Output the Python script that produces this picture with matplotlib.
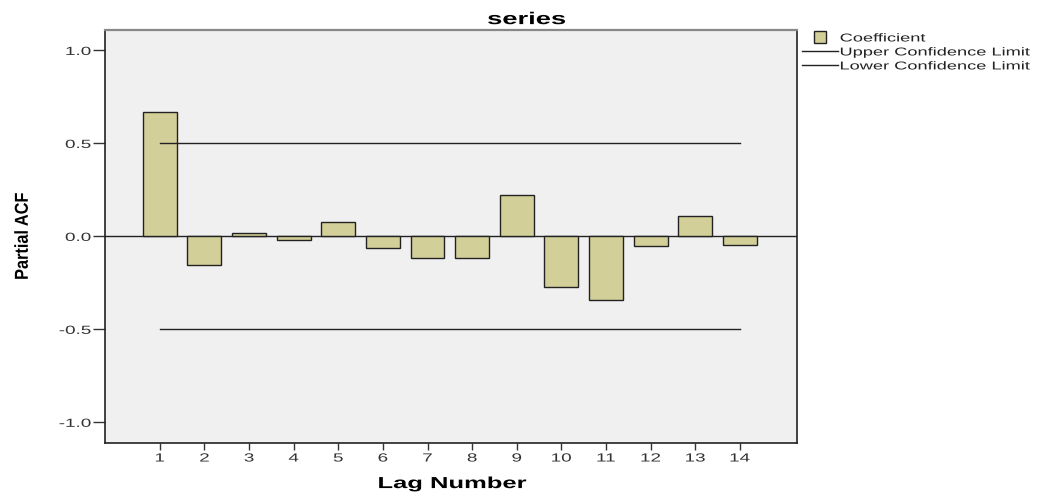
import matplotlib.pyplot as plt
from matplotlib.lines import Line2D
from matplotlib.patheffects import AbstractPathEffect
from matplotlib.transforms import Affine2D

plt.rcParams['font.family'] = ['Liberation Sans', 'DejaVu Sans']

# partial autocorrelation by lag
lags = list(range(1, 15))
pacf = [0.67, -0.155, 0.02, -0.02, 0.075, -0.065, -0.118, -0.118,
        0.222, -0.27, -0.34, -0.05, 0.11, -0.047]
upper_limit = 0.5
lower_limit = -0.5

bar_color = '#d3cf98'
bg_color = '#f0f0f0'


class Stretch(AbstractPathEffect):
    """Widen (or narrow) text along its baseline, keeping one end fixed."""

    def __init__(self, sx, anchor='center'):
        super().__init__()
        self.sx = sx
        self.anchor = anchor

    def draw_path(self, renderer, gc, tpath, affine, rgbFace=None):
        ext = tpath.get_extents()
        if self.anchor == 'left':
            c = ext.x0
        elif self.anchor == 'right':
            c = ext.x1
        else:
            c = (ext.x0 + ext.x1) / 2
        t = Affine2D().translate(-c, 0).scale(self.sx, 1).translate(c, 0)
        renderer.draw_path(gc, tpath, t + affine, rgbFace)


fig = plt.figure(figsize=(10.39, 4.92), dpi=100)
ax = fig.add_axes([0.101, 0.100, 0.666, 0.839])
ax.set_facecolor(bg_color)

ax.bar(lags, pacf, width=0.76, color=bar_color, edgecolor='#222222', linewidth=1.0, zorder=3)
ax.axhline(0, color='#222222', linewidth=1.0, zorder=2)
ax.plot([lags[0], lags[-1]], [upper_limit, upper_limit], color='#222222', linewidth=1.0, zorder=4)
ax.plot([lags[0], lags[-1]], [lower_limit, lower_limit], color='#222222', linewidth=1.0, zorder=4)

ax.set_xlim(-0.23, 15.28)
ax.set_ylim(-1.11, 1.11)
ax.set_xticks(lags)
ax.set_yticks([-1.0, -0.5, 0.0, 0.5, 1.0])
ax.set_yticklabels(['-1.0', '-0.5', '0.0', '0.5', '1.0'])
ax.tick_params(axis='y', length=9, width=1, color='#333333', labelsize=8.5, labelcolor='#333333', pad=1)
ax.tick_params(axis='x', length=5, width=1, color='#333333', labelsize=8.5, labelcolor='#333333', pad=2)
for lbl in ax.get_yticklabels():
    lbl.set_path_effects([Stretch(1.6, 'right')])
for lbl in ax.get_xticklabels():
    lbl.set_path_effects([Stretch(1.6)])

for side in ['left', 'bottom', 'right']:
    ax.spines[side].set_color('#222222')
    ax.spines[side].set_linewidth(1.2)
ax.spines['top'].set_color('#888888')
ax.spines['top'].set_linewidth(1.6)

fig.text(0.507, 0.951, 'series', ha='center', va='baseline', fontsize=12.3,
         fontweight='bold', path_effects=[Stretch(1.6)])
fig.text(0.4355, 0.008, 'Lag Number', ha='center', va='baseline', fontsize=11.5,
         fontweight='bold', path_effects=[Stretch(1.6)])
ax.set_ylabel('Partial ACF', fontsize=13.5, fontweight='bold', labelpad=28,
              path_effects=[Stretch(0.87)])

handles = [Line2D([], [], linestyle='none', marker='s', markersize=9,
                  markerfacecolor=bar_color, markeredgecolor='#222222', label='Coefficient'),
           Line2D([], [], color='#222222', linewidth=1.0, label='Upper Confidence Limit'),
           Line2D([], [], color='#222222', linewidth=1.0, label='Lower Confidence Limit')]
leg = fig.legend(handles=handles, loc='upper left', bbox_to_anchor=(0.772, 0.932),
                 frameon=False, fontsize=8.2, handlelength=3.15, handletextpad=0.18,
                 labelspacing=0.35, borderaxespad=0, borderpad=0, labelcolor='#222222')
for txt in leg.get_texts():
    txt.set_path_effects([Stretch(1.6, 'left')])

fig.savefig('out.png', dpi=100, facecolor='white')
